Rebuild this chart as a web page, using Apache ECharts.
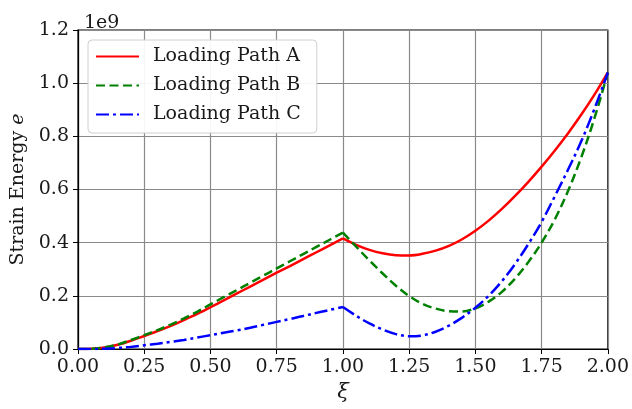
<!DOCTYPE html>
<html>
<head>
<meta charset="utf-8">
<script src="https://cdn.jsdelivr.net/npm/echarts@6/dist/echarts.min.js"></script>
<style>
  html, body { margin: 0; padding: 0; background: #fff; }
  #chart { width: 632px; height: 409px; }
</style>
</head>
<body>
<div id="chart"></div>
<script>
// Loading parameter xi, sampled every 0.05
const xi = [
  0.00, 0.05, 0.10, 0.15, 0.20, 0.25, 0.30, 0.35, 0.40, 0.45,
  0.50, 0.55, 0.60, 0.65, 0.70, 0.75, 0.80, 0.85, 0.90, 0.95,
  1.00, 1.05, 1.10, 1.15, 1.20, 1.25, 1.30, 1.35, 1.40, 1.45,
  1.50, 1.55, 1.60, 1.65, 1.70, 1.75, 1.80, 1.85, 1.90, 1.95,
  2.00
];

// Strain energy along each loading path (units of 1e9)
const pathA = [
  0.000, 0.001, 0.006, 0.016, 0.031, 0.049, 0.067, 0.087, 0.109, 0.132,
  0.157, 0.183, 0.209, 0.235, 0.261, 0.287, 0.312, 0.338, 0.364, 0.390,
  0.416, 0.392, 0.373, 0.360, 0.353, 0.352, 0.358, 0.370, 0.388, 0.413,
  0.445, 0.483, 0.527, 0.576, 0.629, 0.686, 0.747, 0.812, 0.882, 0.958,
  1.041
];
const pathB = [
  0.000, 0.001, 0.006, 0.017, 0.034, 0.052, 0.071, 0.092, 0.115, 0.140,
  0.168, 0.195, 0.222, 0.249, 0.276, 0.303, 0.330, 0.357, 0.384, 0.411,
  0.438, 0.385, 0.333, 0.284, 0.238, 0.199, 0.170, 0.152, 0.142, 0.141,
  0.153, 0.178, 0.215, 0.265, 0.327, 0.400, 0.488, 0.595, 0.722, 0.870,
  1.040
];
const pathC = [
  0.000, 0.000, 0.001, 0.004, 0.008, 0.014, 0.020, 0.027, 0.034, 0.043,
  0.052, 0.061, 0.070, 0.080, 0.091, 0.102, 0.113, 0.124, 0.136, 0.147,
  0.158, 0.125, 0.096, 0.073, 0.056, 0.048, 0.051, 0.065, 0.088, 0.118,
  0.155, 0.200, 0.255, 0.320, 0.395, 0.478, 0.575, 0.675, 0.782, 0.905,
  1.040
];

const seriesNames = ['Loading Path A', 'Loading Path B', 'Loading Path C'];
const xTicks = { min: 0, max: 2, step: 0.25 };
const yTicks = { min: 0, max: 1.2, step: 0.2 };
const kinkXi = 1.0;   // loading switches branch here

const serif = 'DejaVu Serif';
const ink = '#1a1a1a';

// Split a path at the kink so each branch can be smoothed on its own
function branches(ys) {
  const pts = xi.map((x, i) => [x, ys[i]]);
  return [pts.filter(p => p[0] <= kinkXi), pts.filter(p => p[0] >= kinkXi)];
}

const styles = [
  { color: '#ff0000', type: 'solid' },
  { color: '#008000', type: [9, 4.5] },
  { color: '#0000ff', type: [13, 4, 3, 4] }
];

const series = [];
[pathA, pathB, pathC].forEach((ys, k) => {
  branches(ys).forEach(pts => {
    series.push({
      name: seriesNames[k], type: 'line', data: pts,
      showSymbol: false, symbol: 'none', smooth: 0.35,
      lineStyle: { color: styles[k].color, width: 2.5, type: styles[k].type },
      itemStyle: { color: styles[k].color }, z: 3
    });
  });
});

const chart = echarts.init(document.getElementById('chart'), null, { renderer: 'canvas' });

chart.setOption({
  backgroundColor: '#ffffff',
  animation: false,
  title: {
    text: '1e9',
    left: 79, top: 9,
    textStyle: { fontFamily: serif, fontSize: 19, fontWeight: 'normal', color: ink }
  },
  grid: {
    left: 78, right: 24, top: 30, bottom: 60,
    show: true, borderColor: '#000', borderWidth: 1.2, backgroundColor: 'transparent'
  },
  legend: {
    orient: 'vertical',
    left: 88, top: 40,
    padding: [7, 16, 9, 7],
    itemWidth: 43, itemHeight: 20, itemGap: 10,
    itemStyle: { opacity: 0 },
    backgroundColor: 'rgba(255,255,255,0.92)',
    borderColor: '#d0d0d0', borderWidth: 1, borderRadius: 4,
    textStyle: { fontFamily: serif, fontSize: 19, color: ink, padding: [0, 0, 0, 9] },
    data: seriesNames
  },
  xAxis: {
    type: 'value',
    min: xTicks.min, max: xTicks.max, interval: xTicks.step,
    name: 'ξ',
    nameLocation: 'middle', nameGap: 26,
    nameTextStyle: { fontFamily: serif, fontSize: 21, fontStyle: 'italic', color: ink },
    axisLine: { show: true, lineStyle: { color: '#000', width: 1.2 } },
    axisTick: { show: true, inside: false, length: 5, lineStyle: { color: '#000', width: 1 } },
    axisLabel: {
      fontFamily: serif, fontSize: 19, color: ink, margin: 9,
      formatter: v => v.toFixed(2)
    },
    splitLine: { show: true, lineStyle: { color: '#8a8a8a', width: 1.2 } }
  },
  yAxis: {
    type: 'value',
    min: yTicks.min, max: yTicks.max, interval: yTicks.step,
    name: '{r|Strain Energy }{i|e}',
    nameLocation: 'middle', nameGap: 50, nameRotate: 90,
    nameTextStyle: {
      fontFamily: serif, fontSize: 19, color: ink,
      rich: {
        r: { fontFamily: serif, fontSize: 19, color: ink },
        i: { fontFamily: serif, fontSize: 19, color: ink, fontStyle: 'italic' }
      }
    },
    axisLine: { show: true, lineStyle: { color: '#000', width: 1.2 } },
    axisTick: { show: true, inside: false, length: 5, lineStyle: { color: '#000', width: 1 } },
    axisLabel: {
      fontFamily: serif, fontSize: 19, color: ink, margin: 9,
      formatter: v => v.toFixed(1)
    },
    splitLine: { show: true, lineStyle: { color: '#8a8a8a', width: 1.2 } }
  },
  series: series
});
</script>
</body>
</html>
